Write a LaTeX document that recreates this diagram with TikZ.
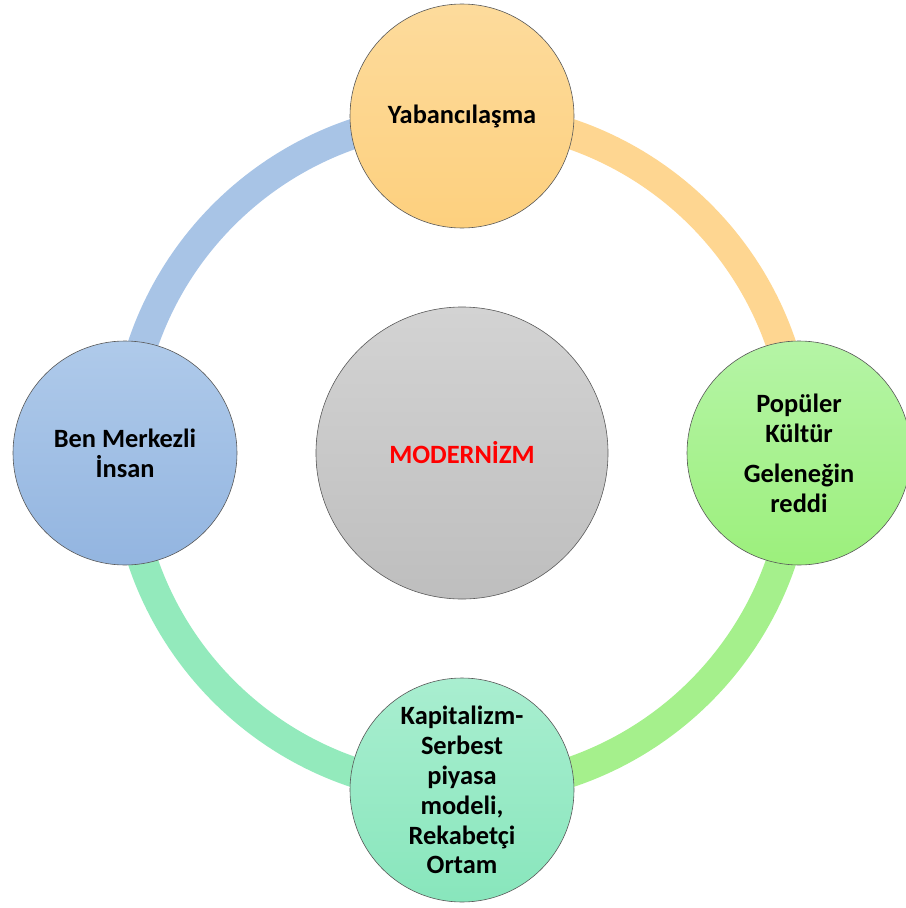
\documentclass[tikz,border=0pt]{standalone}
\usepackage{fontspec}
\setmainfont{Carlito}
\begin{document}
\begin{tikzpicture}[x=1bp,y=-1bp,
  bub/.style={circle,draw=black!65,line width=0.6bp,inner sep=0pt,minimum size=224bp,align=center,font=\fontsize{26.5}{30}\selectfont\bfseries},
  ring/.style={line width=30bp}]
\definecolor{orA}{HTML}{FDDB9C}\definecolor{orB}{HTML}{FDD07E}
\definecolor{grA}{HTML}{B5F4A6}\definecolor{grB}{HTML}{9CF07C}
\definecolor{mtA}{HTML}{A9EED0}\definecolor{mtB}{HTML}{88E6BC}
\definecolor{blA}{HTML}{AFCAEA}\definecolor{blB}{HTML}{93B5E0}
\definecolor{gyA}{HTML}{D3D3D3}\definecolor{gyB}{HTML}{BEBEBE}
\definecolor{orR}{HTML}{FED691}\definecolor{grR}{HTML}{A5F08C}
\definecolor{mtR}{HTML}{93EABC}\definecolor{blR}{HTML}{A8C4E6}
\useasboundingbox (0,0) rectangle (906,908);
\coordinate (c) at (462,453);
\coordinate (t) at (462,116);
\coordinate (r) at (799,453);
\coordinate (b) at (462,790);
\coordinate (l) at (125,453);
\draw[ring,orR] (t) arc[start angle=-90,end angle=0,radius=337];
\draw[ring,grR] (r) arc[start angle=0,end angle=90,radius=337];
\draw[ring,mtR] (b) arc[start angle=90,end angle=180,radius=337];
\draw[ring,blR] (l) arc[start angle=180,end angle=270,radius=337];
\node[bub,minimum size=292bp,top color=gyA,bottom color=gyB,text=red] (cen) at (c) {MODERNİZM};
\node[bub,top color=orA,bottom color=orB] (top) at (t) {Yabancılaşma};
\node[bub,top color=grA,bottom color=grB] (right) at (r) {Popüler\\Kültür\\[10bp]Geleneğin\\reddi};
\node[bub,top color=mtA,bottom color=mtB] (bottom) at (b) {Kapitalizm-\\Serbest\\piyasa\\modeli,\\Rekabetçi\\Ortam};
\node[bub,top color=blA,bottom color=blB] (left) at (l) {Ben Merkezli\\İnsan};
\end{tikzpicture}
\end{document}
